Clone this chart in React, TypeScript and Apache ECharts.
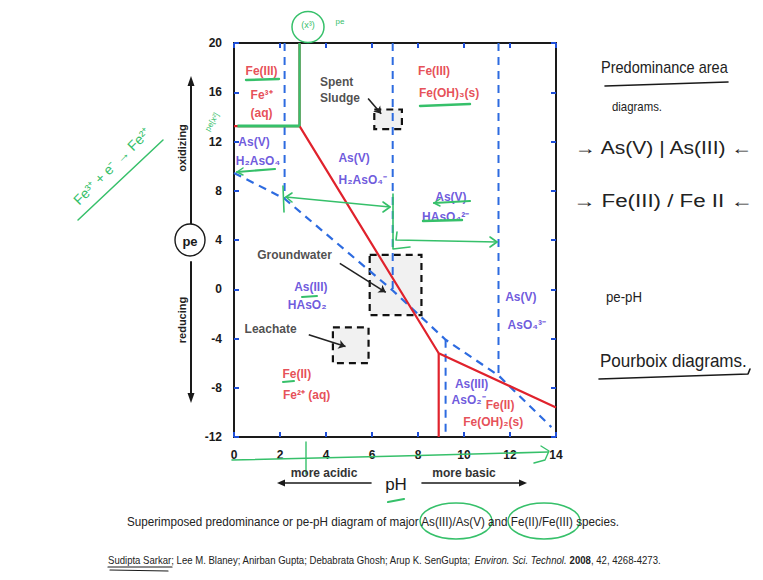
import React, { useEffect, useRef } from "react";
import * as echarts from "echarts";

// ---------- data (pH, pe) ----------
const phRange = [0, 14];
const peRange = [-12, 20];
const phStep = 2;
const peStep = 4;

// Fe boundaries (red)
const feAqBoundary = [[0, 13.25], [2.85, 13.25]];
const feAqSolidBoundary = [[2.85, 13.25], [2.85, 20]];
const feRedoxBoundary = [[2.85, 13.25], [8.9, -5.2], [14, -9.6]];
const feHydroxideBoundary = [[8.9, -5.2], [8.9, -12]];

// As boundaries (blue dashed)
const asRedoxBoundary = [[0, 9.45], [2.2, 7.35], [6.9, -0.1], [9.2, -4.1], [11.5, -7.0], [13.8, -11.2]];
const asPka1 = [[2.2, 20], [2.2, 7.35]];
const asPka2 = [[6.9, 20], [6.9, -0.1]];
const asPka3 = [[9.2, -4.1], [9.2, -12]];
const asPka4 = [[11.5, 20], [11.5, -7.0]];

// sample boxes: [phMin, phMax, peMin, peMax]
const sampleNames = ["Spent Sludge", "Groundwater", "Leachate"];
const sampleBoxes = [
  [6.1, 7.3, 13.0, 14.6],
  [5.9, 8.15, -2.1, 2.8],
  [4.3, 5.85, -6.0, -3.1],
];
// pointer arrows from label to box
const samplePointers = [
  [[5.83, 15.5], [6.4, 14.25]],
  [[4.6, 2.1], [6.6, -0.25]],
  [[3.25, -3.7], [4.85, -4.65]],
];
const sampleLabels = [
  [3.74, 16.85, "Spent", "left"],
  [3.74, 15.55, "Sludge", "left"],
  [2.63, 2.78, "Groundwater", "center"],
  [1.59, -3.19, "Leachate", "center"],
];

// species labels
const feLabels = [
  [1.2, 17.75, "Fe(III)"],
  [1.2, 15.8, "Fe³⁺"],
  [1.2, 14.3, "(aq)"],
  [8.7, 17.7, "Fe(III)"],
  [9.35, 15.95, "Fe(OH)₃(s)"],
  [2.73, -6.85, "Fe(II)"],
  [3.16, -8.62, "Fe²⁺ (aq)"],
  [11.57, -9.37, "Fe(II)"],
  [11.27, -10.8, "Fe(OH)₂(s)"],
];
const asLabels = [
  [0.87, 12.0, "As(V)"],
  [1.04, 10.45, "H₂AsO₄"],
  [5.22, 10.64, "As(V)"],
  [5.6, 8.88, "H₂AsO₄⁻"],
  [9.43, 7.52, "As(V)"],
  [9.2, 5.89, "HAsO₄²⁻"],
  [3.34, 0.19, "As(III)"],
  [3.18, -1.29, "HAsO₂"],
  [12.47, -0.62, "As(V)"],
  [12.73, -2.92, "AsO₄³⁻"],
  [10.33, -7.66, "As(III)"],
  [10.2, -9.02, "AsO₂⁻"],
];

const captionText =
  "Superimposed predominance or pe-pH diagram of major As(III)/As(V) and Fe(II)/Fe(III) species.";
const citationAuthors = "Sudipta Sarkar; Lee M. Blaney; Anirban Gupta; Debabrata Ghosh; Arup K. SenGupta; ";
const citationJournal = "Environ. Sci. Technol.";
const citationYear = "2008";
const citationRest = ", 42, 4268-4273.";

const notes = [
  "Predominance area",
  "diagrams.",
  "→ As(V) | As(III) ←",
  "→ Fe(III) / Fe II ←",
  "pe-pH",
  "Pourboix diagrams.",
];

// ---------- styles ----------
const RED = "#e0222c";
const BLUE = "#2d6be0";
const PURPLE = "#4a2fd4";
const GREEN = "#36c06a";
const INK = "#1a1a1a";
const SANS = "'Liberation Sans', Arial, sans-serif";

function measure(text: string, font: string): number {
  const c = document.createElement("canvas").getContext("2d");
  if (!c) return 1;
  c.font = font;
  return c.measureText(text).width || 1;
}

function lineSeries(data: number[][], color: string, width: number, dashed: boolean, z = 3) {
  return {
    type: "line",
    data,
    symbol: "none",
    silent: true,
    z,
    lineStyle: { color, width, type: dashed ? [8, 6] : "solid" },
  };
}

function labelSeries(items: any[], color: string) {
  return {
    type: "scatter",
    symbolSize: 1,
    itemStyle: { color: "rgba(0,0,0,0)" },
    silent: true,
    z: 10,
    data: items.map((d) => ({
      value: [d[0], d[1]],
      label: {
        show: true,
        position: "inside",
        formatter: d[2],
        color,
        fontWeight: "bold",
        fontSize: 12,
        fontFamily: SANS,
        align: d[3] || "center",
      },
    })),
  };
}

export default function App() {
  const ref = useRef<HTMLDivElement>(null);

  useEffect(() => {
    if (!ref.current) return;
    const chart = echarts.init(ref.current, null, { renderer: "svg" });

    const axisLine = { show: true, onZero: false, lineStyle: { color: INK, width: 2 } };
    const axisTick = { show: true, inside: true, length: 5, lineStyle: { color: "#1f4fd8", width: 2 } };
    const axisLabel = { color: INK, fontWeight: "bold", fontSize: 12, fontFamily: SANS, margin: 12 };

    const g = (pts: number[][], w = 1.6, color = GREEN) => ({
      type: "polyline",
      shape: { points: pts },
      style: { stroke: color, lineWidth: w, fill: null, lineCap: "round", lineJoin: "round" },
      z: 50,
    });
    const ink = (pts: number[][], w = 1.4) => g(pts, w, INK);

    // fitted text (condensed by horizontal scale to the target width)
    const fitText = (text: string, x: number, y: number, width: number, font: string, fill: string, extra: any = {}) => ({
      type: "text",
      x,
      y,
      z: 51,
      scaleX: width / measure(text, font),
      style: { text, font, fill, verticalAlign: "middle", ...extra },
    });

    const citeFont = `11px ${SANS}`;
    const citeWidth = measure(
      citationAuthors + citationJournal + " " + citationYear + citationRest,
      citeFont
    );

    const option: any = {
      animation: false,
      backgroundColor: "#ffffff",
      grid: { left: 234, top: 43, right: 207, bottom: 143, show: false, outerBoundsMode: "none" },
      xAxis: [
        {
          type: "value", min: phRange[0], max: phRange[1], interval: phStep, position: "bottom",
          axisLine, axisTick, axisLabel, splitLine: { show: false },
        },
        {
          type: "value", min: phRange[0], max: phRange[1], interval: phStep, position: "top",
          axisLine, axisTick, axisLabel: { show: false }, splitLine: { show: false },
        },
      ],
      yAxis: [
        {
          type: "value", min: peRange[0], max: peRange[1], interval: peStep, position: "left",
          axisLine, axisTick, axisLabel: { ...axisLabel, margin: 12 }, splitLine: { show: false },
        },
        {
          type: "value", min: peRange[0], max: peRange[1], interval: peStep, position: "right",
          axisLine, axisTick, axisLabel: { show: false }, splitLine: { show: false },
        },
      ],
      series: [
        // sample boxes
        {
          type: "custom",
          silent: true,
          z: 1,
          data: sampleBoxes,
          encode: { x: [0, 1], y: [2, 3] },
          renderItem: (_p: any, api: any) => {
            const a = api.coord([api.value(0), api.value(3)]);
            const b = api.coord([api.value(1), api.value(2)]);
            return {
              type: "rect",
              shape: { x: a[0], y: a[1], width: b[0] - a[0], height: b[1] - a[1] },
              style: { fill: "#f1f1f1", stroke: "#111", lineWidth: 2.2, lineDash: [7, 5] },
            };
          },
        },
        lineSeries(asRedoxBoundary, BLUE, 2.2, true),
        lineSeries(asPka1, BLUE, 2, true),
        lineSeries(asPka2, BLUE, 2, true),
        lineSeries(asPka3, BLUE, 2, true),
        lineSeries(asPka4, BLUE, 2, true),
        lineSeries(feRedoxBoundary, RED, 2.2, false, 4),
        lineSeries(feHydroxideBoundary, RED, 2.2, false, 4),
        lineSeries(feAqBoundary, RED, 2.2, false, 4),
        lineSeries(feAqSolidBoundary, RED, 2.2, false, 4),
        // green highlight drawn over the Fe(III) aqueous field
        lineSeries(feAqBoundary.map((p, i) => (i === 0 ? [0.15, p[1]] : p)), GREEN, 3, false, 5),
        lineSeries(feAqSolidBoundary.map((p) => [p[0], p[1]]), GREEN, 2.4, false, 5),
        // pointer arrows
        {
          type: "lines",
          coordinateSystem: "cartesian2d",
          silent: true,
          z: 6,
          symbol: ["none", "arrow"],
          symbolSize: 7,
          lineStyle: { color: "#222", width: 1.6, opacity: 1 },
          data: samplePointers.map((c) => ({ coords: c })),
        },
        labelSeries(feLabels, RED),
        labelSeries(asLabels, PURPLE),
        labelSeries(sampleLabels, "#222"),
      ],
      graphic: [
        // ---- y-axis descriptor ----
        ink([[191, 226], [191, 84]], 2),
        { type: "polygon", shape: { points: [[191, 76], [187.5, 86], [194.5, 86]] }, style: { fill: INK }, z: 50 },
        ink([[191, 262], [191, 394]], 2),
        { type: "polygon", shape: { points: [[191, 403], [187.5, 393], [194.5, 393]] }, style: { fill: INK }, z: 50 },
        { type: "ellipse", shape: { cx: 190, cy: 240, rx: 15, ry: 16 }, style: { fill: "#fff", stroke: INK, lineWidth: 1.4 }, z: 50 },
        { type: "text", x: 190, y: 241, z: 51, style: { text: "pe", font: `bold 13px ${SANS}`, fill: INK, align: "center", verticalAlign: "middle" } },
        { type: "text", x: 182, y: 148, rotation: Math.PI / 2, z: 51, style: { text: "oxidizing", font: `bold 11px ${SANS}`, fill: "#222", align: "center", verticalAlign: "middle" } },
        { type: "text", x: 182, y: 320, rotation: Math.PI / 2, z: 51, style: { text: "reducing", font: `bold 11px ${SANS}`, fill: "#222", align: "center", verticalAlign: "middle" } },
        // ---- x-axis descriptor ----
        { type: "text", x: 324, y: 473, z: 51, style: { text: "more acidic", font: `bold 12px ${SANS}`, fill: "#333", align: "center", verticalAlign: "middle" } },
        { type: "text", x: 464, y: 473, z: 51, style: { text: "more basic", font: `bold 12px ${SANS}`, fill: "#333", align: "center", verticalAlign: "middle" } },
        { type: "text", x: 396, y: 484, z: 51, style: { text: "pH", font: `17px ${SANS}`, fill: INK, align: "center", verticalAlign: "middle" } },
        ink([[371, 483], [284, 483]], 1.6),
        { type: "polygon", shape: { points: [[277, 483], [285, 479.5], [285, 486.5]] }, style: { fill: INK }, z: 50 },
        ink([[422, 483], [519, 483]], 1.6),
        { type: "polygon", shape: { points: [[527, 483], [519, 479.5], [519, 486.5]] }, style: { fill: INK }, z: 50 },
        // ---- caption ----
        fitText(captionText, 127, 522, 493, `13px ${SANS}`, "#222"),
        {
          type: "text", x: 108, y: 560, z: 51,
          scaleX: 552 / citeWidth,
          style: {
            text: `{n|${citationAuthors}}{i|${citationJournal}} {b|${citationYear}}{n|${citationRest}}`,
            verticalAlign: "middle",
            rich: {
              n: { font: citeFont, fill: "#222" },
              i: { font: `italic ${citeFont}`, fill: "#222" },
              b: { font: `bold ${citeFont}`, fill: "#222" },
            },
          },
        },
        ink([[108, 567], [172, 567]], 1.2),
        ink([[110, 570], [168, 571]], 1.2),
        // ---- handwritten notes (right) ----
        fitText(notes[0], 601, 67, 127, `16px ${SANS}`, "#222"),
        ink([[605, 86], [728, 82]], 1.6),
        fitText(notes[1], 612, 107, 50, `13px ${SANS}`, "#222"),
        fitText(notes[2], 575, 148, 180, `18px ${SANS}`, "#222"),
        fitText(notes[3], 573, 201, 180, `18px ${SANS}`, "#222"),
        fitText(notes[4], 606, 297, 36, `14px ${SANS}`, "#222"),
        fitText(notes[5], 600, 361, 147, `18px ${SANS}`, "#222"),
        ink([[599, 379], [748, 374], [750, 369]], 1.6),
        // ---- green handwriting ----
        { type: "ellipse", shape: { cx: 308, cy: 27, rx: 16, ry: 15.5 }, style: { fill: null, stroke: GREEN, lineWidth: 1.5 }, z: 50 },
        { type: "text", x: 308, y: 25, z: 51, style: { text: "(x³)", font: `9px ${SANS}`, fill: GREEN, align: "center", verticalAlign: "middle" } },
        { type: "text", x: 340, y: 21, z: 51, style: { text: "pe", font: `8px ${SANS}`, fill: GREEN, align: "center", verticalAlign: "middle" } },
        { type: "text", x: 212, y: 122, rotation: Math.PI / 3, z: 51, style: { text: "pe[x²]", font: `8px ${SANS}`, fill: GREEN, align: "center", verticalAlign: "middle" } },
        { type: "text", x: 112, y: 166, rotation: Math.PI / 4, z: 51, style: { text: "Fe³⁺ + e⁻ → Fe²⁺", font: `14px ${SANS}`, fill: GREEN, align: "center", verticalAlign: "middle" } },
        g([[78, 220], [163, 140]], 1.5),
        g([[246, 80], [279, 79]], 2.4),
        g([[420, 106], [470, 104]], 2.4),
        g([[434, 203], [470, 201]], 2.2),
        g([[440, 199], [434, 203], [440, 206]], 1.5),
        g([[423, 221], [462, 220]], 2.4),
        g([[237, 172], [275, 169]], 2.2),
        g([[243, 168], [237, 172], [243, 175]], 1.5),
        g([[302, 297], [317, 296]], 2),
        g([[283, 382], [294, 381]], 2),
        g([[283, 186], [284, 212]], 1.6),
        g([[286, 197], [390, 207]], 1.6),
        g([[292, 193], [286, 197], [292, 202]], 1.6),
        g([[383, 202], [390, 207], [383, 212]], 1.6),
        g([[393, 194], [393, 249], [410, 247]], 1.6),
        g([[397, 232], [396, 240], [497, 242]], 1.6),
        g([[490, 237], [497, 242], [490, 247]], 1.6),
        g([[232, 460], [400, 456], [548, 452]], 1.6),
        g([[541, 446], [549, 451], [545, 460], [534, 463]], 1.4),
        g([[306, 442], [306, 474]], 1.4),
        g([[388, 502], [404, 499]], 2.2),
        { type: "ellipse", shape: { cx: 456, cy: 521, rx: 36, ry: 18 }, style: { fill: null, stroke: GREEN, lineWidth: 1.5 }, z: 50 },
        { type: "ellipse", shape: { cx: 544, cy: 521, rx: 36, ry: 18 }, style: { fill: null, stroke: GREEN, lineWidth: 1.5 }, z: 50 },
      ],
    };

    chart.setOption(option);
    return () => chart.dispose();
  }, []);

  return (
    <div
      ref={ref}
      style={{ position: "absolute", left: 0, top: 0, width: 763, height: 580, background: "#fff" }}
    />
  );
}
